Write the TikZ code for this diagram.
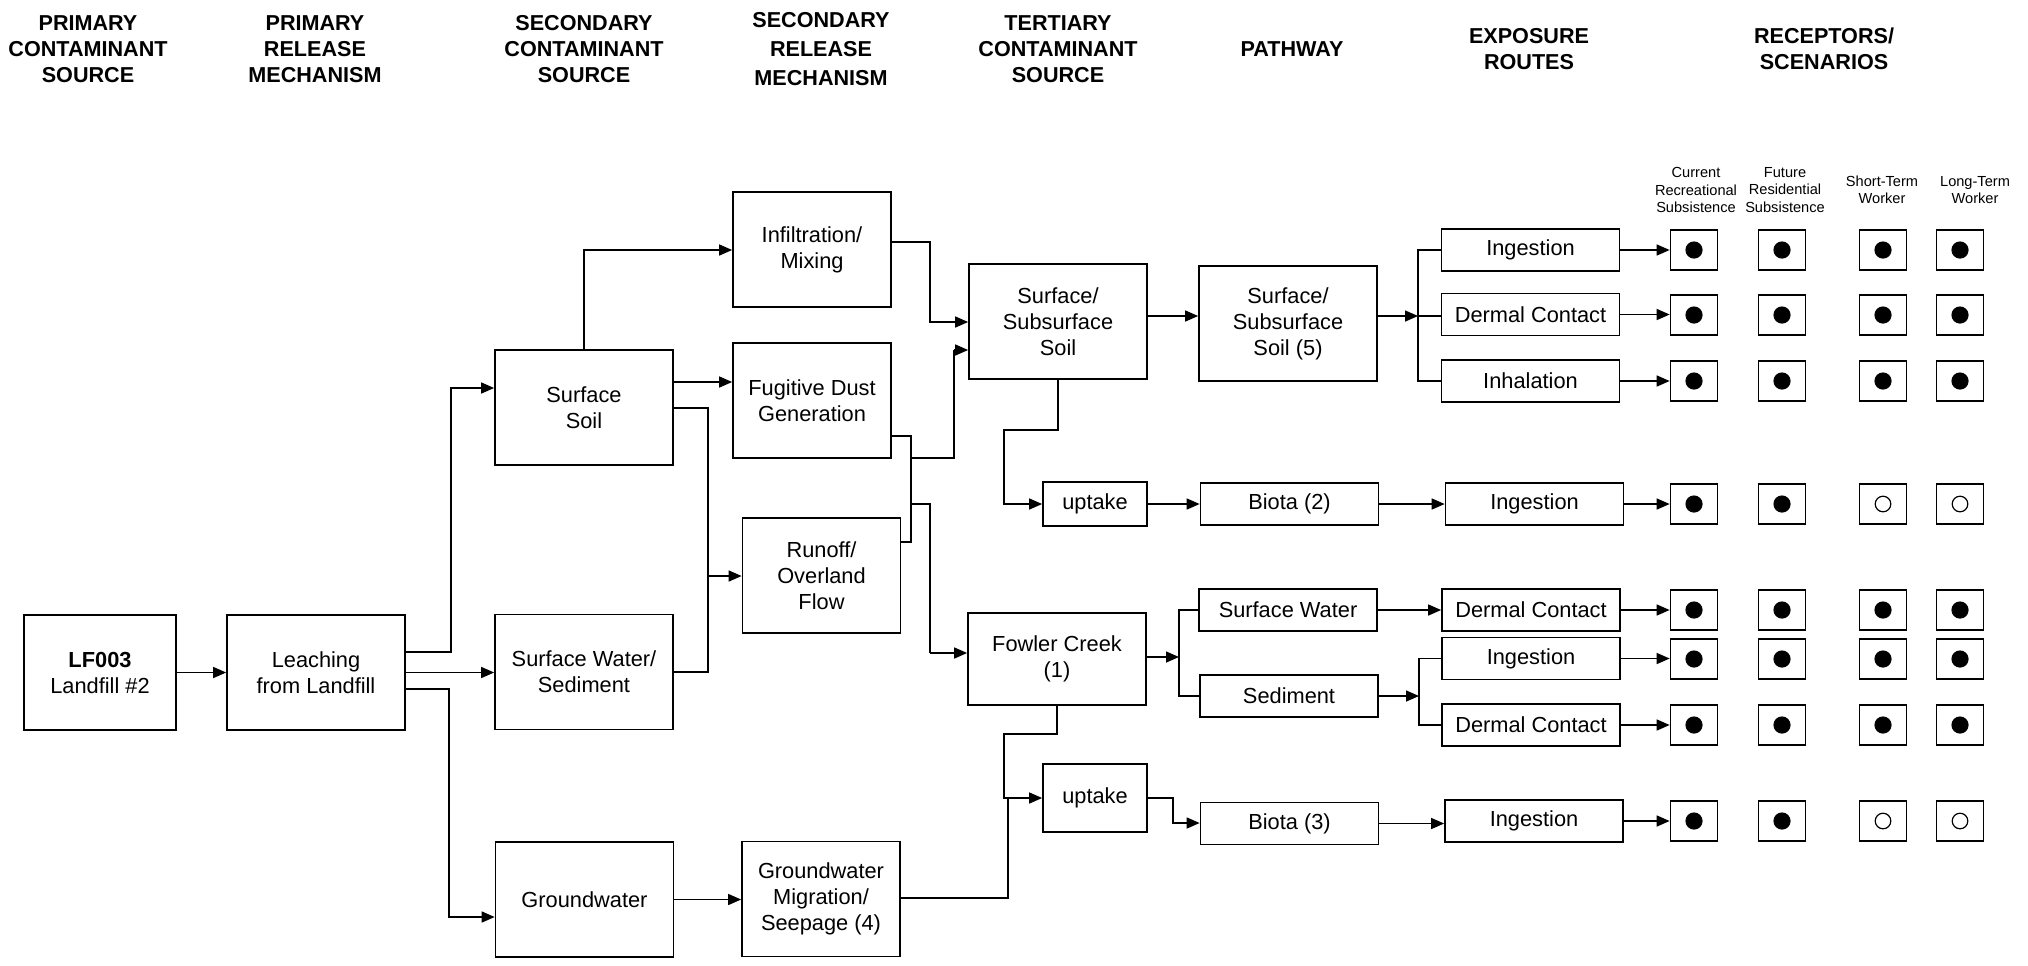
\documentclass[tikz,border=0pt]{standalone}
\usepackage{fontspec}
\setmainfont{Liberation Sans}
\usetikzlibrary{arrows.meta}
\begin{document}
\begin{tikzpicture}[x=0.5pt,y=-0.5pt,
  box/.style={draw, line width=0.85pt, inner sep=0pt, align=center, font=\fontsize{10.9}{13}\selectfont},
  ln/.style={line width=0.75pt},
  thk/.style={line width=1.4pt},
  arr/.style={-{Triangle[length=6.5pt,width=5.5pt]}},
  hdr/.style={align=center, font=\bfseries\fontsize{10.8}{13}\selectfont, inner sep=0pt},
  rlab/.style={align=center, font=\fontsize{7.3}{8.7}\selectfont, inner sep=0pt},
  rec/.style={draw, line width=0.85pt, minimum width=23.5pt, minimum height=20pt, inner sep=0pt},
  bbox/.style={box, minimum width=89pt, minimum height=57.5pt},
  mbox/.style={box, minimum width=79pt, minimum height=57.5pt},
  sbox/.style={box, minimum width=89pt, minimum height=21pt},
]
\useasboundingbox (0,0) rectangle (2028,965);

% headers
\node[hdr] (h1) at (88,49) {PRIMARY\\CONTAMINANT\\SOURCE};
\node[hdr] (h2) at (315,49) {PRIMARY\\RELEASE\\MECHANISM};
\node[hdr] (h3) at (584,49) {SECONDARY\\CONTAMINANT\\SOURCE};
\node[hdr, font=\bfseries\fontsize{10.8}{14.5}\selectfont] (h4) at (821,49) {SECONDARY\\RELEASE\\MECHANISM};
\node[hdr] (h5) at (1058,49) {TERTIARY\\CONTAMINANT\\SOURCE};
\node[hdr] (h6) at (1292,49) {PATHWAY};
\node[hdr] (h7) at (1529,49) {EXPOSURE\\ROUTES};
\node[hdr] (h8) at (1824,49) {RECEPTORS/\\SCENARIOS};

% receptor labels
\node[rlab] (l1) at (1696,190) {Current\\Recreational\\Subsistence};
\node[rlab] (l2) at (1785,190) {Future\\Residential\\Subsistence};
\node[rlab] (l3) at (1882,190) {Short-Term\\Worker};
\node[rlab] (l4) at (1975,190) {Long-Term\\Worker};

% boxes
\node[box, minimum width=76pt, minimum height=57.5pt] (lf) at (100,672.5) {\textbf{LF003}\\Landfill \#2};
\node[bbox] (leach) at (316,672.5) {Leaching\\from Landfill};
\node[bbox] (ssoil) at (584,407.5) {Surface\\Soil};
\node[bbox] (swsed) at (584,672) {Surface Water/\\Sediment};
\node[bbox] (gw) at (584.5,899.5) {Groundwater};
\node[mbox] (infil) at (812,249.5) {Infiltration/\\Mixing};
\node[mbox] (fug) at (812,400.5) {Fugitive Dust\\Generation};
\node[mbox] (runoff) at (821.5,575.5) {Runoff/\\Overland\\Flow};
\node[mbox] (gwm) at (821,899) {Groundwater\\Migration/\\Seepage (4)};
\node[bbox] (sss) at (1058,321.5) {Surface/\\Subsurface\\Soil};
\node[box, minimum width=89pt, minimum height=46pt] (fowler) at (1057,659) {Fowler Creek\\(1)};
\node[box, minimum width=52pt, minimum height=22pt] (up1) at (1095,504) {uptake};
\node[box, minimum width=52pt, minimum height=34pt] (up2) at (1095,798) {uptake};
\node[bbox] (sss5) at (1288,323.5) {Surface/\\Subsurface\\Soil (5)};
\node[sbox] (biota2) at (1289.5,504) {Biota (2)};
\node[sbox] (sw) at (1288,610) {Surface Water};
\node[sbox] (sed) at (1289,696) {Sediment};
\node[sbox] (biota3) at (1289.5,823.5) {Biota (3)};

\node[sbox] (ing1) at (1530.5,250) {Ingestion};
\node[sbox] (derm1) at (1530.5,314.5) {Dermal Contact};
\node[sbox] (inh) at (1530.5,381) {Inhalation};
\node[sbox] (ing2) at (1534.5,504) {Ingestion};
\node[sbox] (derm2) at (1531,610) {Dermal Contact};
\node[sbox] (ing3) at (1531,658.5) {Ingestion};
\node[sbox] (derm3) at (1531,725) {Dermal Contact};
\node[sbox] (ing4) at (1534,821) {Ingestion};

% receptors
\foreach \r/\y in {1/250,2/315,3/381,4/504,5/610,6/659,7/725,8/821} {
  \foreach \c/\x in {1/1694,2/1782,3/1883,4/1960} {
    \node[rec] (r\r\c) at (\x,\y) {};
  }
}
\foreach \n in {r11,r12,r13,r14,r21,r22,r23,r24,r31,r32,r33,r34,r41,r42,
                r51,r52,r53,r54,r61,r62,r63,r64,r71,r72,r73,r74,r81,r82}
  \fill (\n) circle[radius=4.3pt];
\foreach \n in {r43,r44,r83,r84}
  \draw[line width=0.6pt] (\n) circle[radius=3.9pt];

% junction coordinates
\coordinate (jA) at (451,652);
\coordinate (jB) at (451,388);
\coordinate (jC) at (449,689);
\coordinate (jD) at (449,917);
\coordinate (jE) at (584,250);
\coordinate (jF) at (733,382);
\coordinate (jG) at (708,408);
\coordinate (jH) at (708,672);
\coordinate (jI) at (708,576);
\coordinate (jJ) at (930,242);
\coordinate (jK) at (930,322);
\coordinate (jL) at (911,436);
\coordinate (jM) at (911,542);
\coordinate (jN) at (911,458);
\coordinate (jO) at (954,458);
\coordinate (jP) at (954,350);
\coordinate (jQ) at (911,504);
\coordinate (jR) at (930,504);
\coordinate (jS) at (930,653);
\coordinate (jT) at (1160,316);
\coordinate (jU) at (1058,430);
\coordinate (jV) at (1004,430);
\coordinate (jW) at (1004,504);
\coordinate (jX) at (1418,316);
\coordinate (jY) at (1179,657);
\coordinate (jZ) at (1419,696);
\coordinate (k1) at (1057,734);
\coordinate (k2) at (1004,734);
\coordinate (k3) at (1004,798);
\coordinate (jAA) at (1173,798);
\coordinate (jAB) at (1173,823);
\coordinate (jAC) at (1008,898);
\coordinate (jAD) at (1008,798);

% connectors
\draw[ln,arr] (lf.east) -- (leach.west);
\draw[ln,arr] (leach.east|-jA) -- (jA) -- (jB) -- (ssoil.west|-jB);
\draw[ln,arr] (leach.east) -- (swsed.west|-leach.east);
\draw[ln,arr] (leach.east|-jC) -- (jC) -- (jD) -- (gw.west|-jD);
\draw[ln,arr] (ssoil.north) -- (jE) -- (infil.west|-jE);
\draw[ln,arr] (ssoil.east|-jF) -- (fug.west|-jF);
\draw[ln] (ssoil.east|-jG) -- (jG) -- (jH) -- (swsed.east|-jH);
\draw[ln,arr] (jI) -- (runoff.west|-jI);
\draw[ln,arr] (infil.east|-jJ) -- (jJ) -- (jK) -- (sss.west|-jK);
\draw[thk] (fug.east|-jL) -- (jL) -- (jM) -- (runoff.east|-jM);
\draw[thk] (jN) -- (jO) -- (jP);
\draw[ln,arr] (jP) -- (sss.west|-jP);
\draw[thk] (jQ) -- (jR) -- (jS);
\draw[ln,arr] (jS) -- (fowler.west|-jS);
\draw[ln,arr] (sss.east|-jT) -- (sss5.west|-jT);
\draw[ln,arr] (sss.south) -- (jU) -- (jV) -- (jW) -- (up1.west|-jW);
\draw[ln,arr] (up1.east) -- (biota2.west|-up1.east);
\draw[ln,arr] (biota2.east) -- (ing2.west|-biota2.east);
\draw[ln,arr] (sss5.east|-jX) -- (jX);
\draw[ln] (ing1.west) -- (ing1.west-|jX) -- (inh.west-|jX) -- (inh.west);
\draw[ln] (jX) -- (derm1.west|-jX);
\draw[ln,arr] (fowler.east|-jY) -- (jY);
\draw[ln] (sw.west) -- (sw.west-|jY) -- (sed.west-|jY) -- (sed.west);
\draw[ln,arr] (sw.east) -- (derm2.west|-sw.east);
\draw[ln,arr] (sed.east) -- (jZ);
\draw[ln] (ing3.west) -- (ing3.west-|jZ) -- (derm3.west-|jZ) -- (derm3.west);
\draw[ln,arr] (fowler.south) -- (k1) -- (k2) -- (k3) -- (up2.west|-k3);
\draw[ln,arr] (up2.east) -- (jAA) -- (jAB) -- (biota3.west|-jAB);
\draw[ln,arr] (biota3.east) -- (ing4.west|-biota3.east);
\draw[ln,arr] (gw.east) -- (gwm.west|-gw.east);
\draw[thk] (gwm.east|-jAC) -- (jAC) -- (jAD);

\foreach \e/\r in {ing1/1,derm1/2,inh/3,ing2/4,derm2/5,ing3/6,derm3/7,ing4/8}
  \draw[ln,arr] (\e.east) -- (r\r1.west|-\e.east);
\end{tikzpicture}
\end{document}
